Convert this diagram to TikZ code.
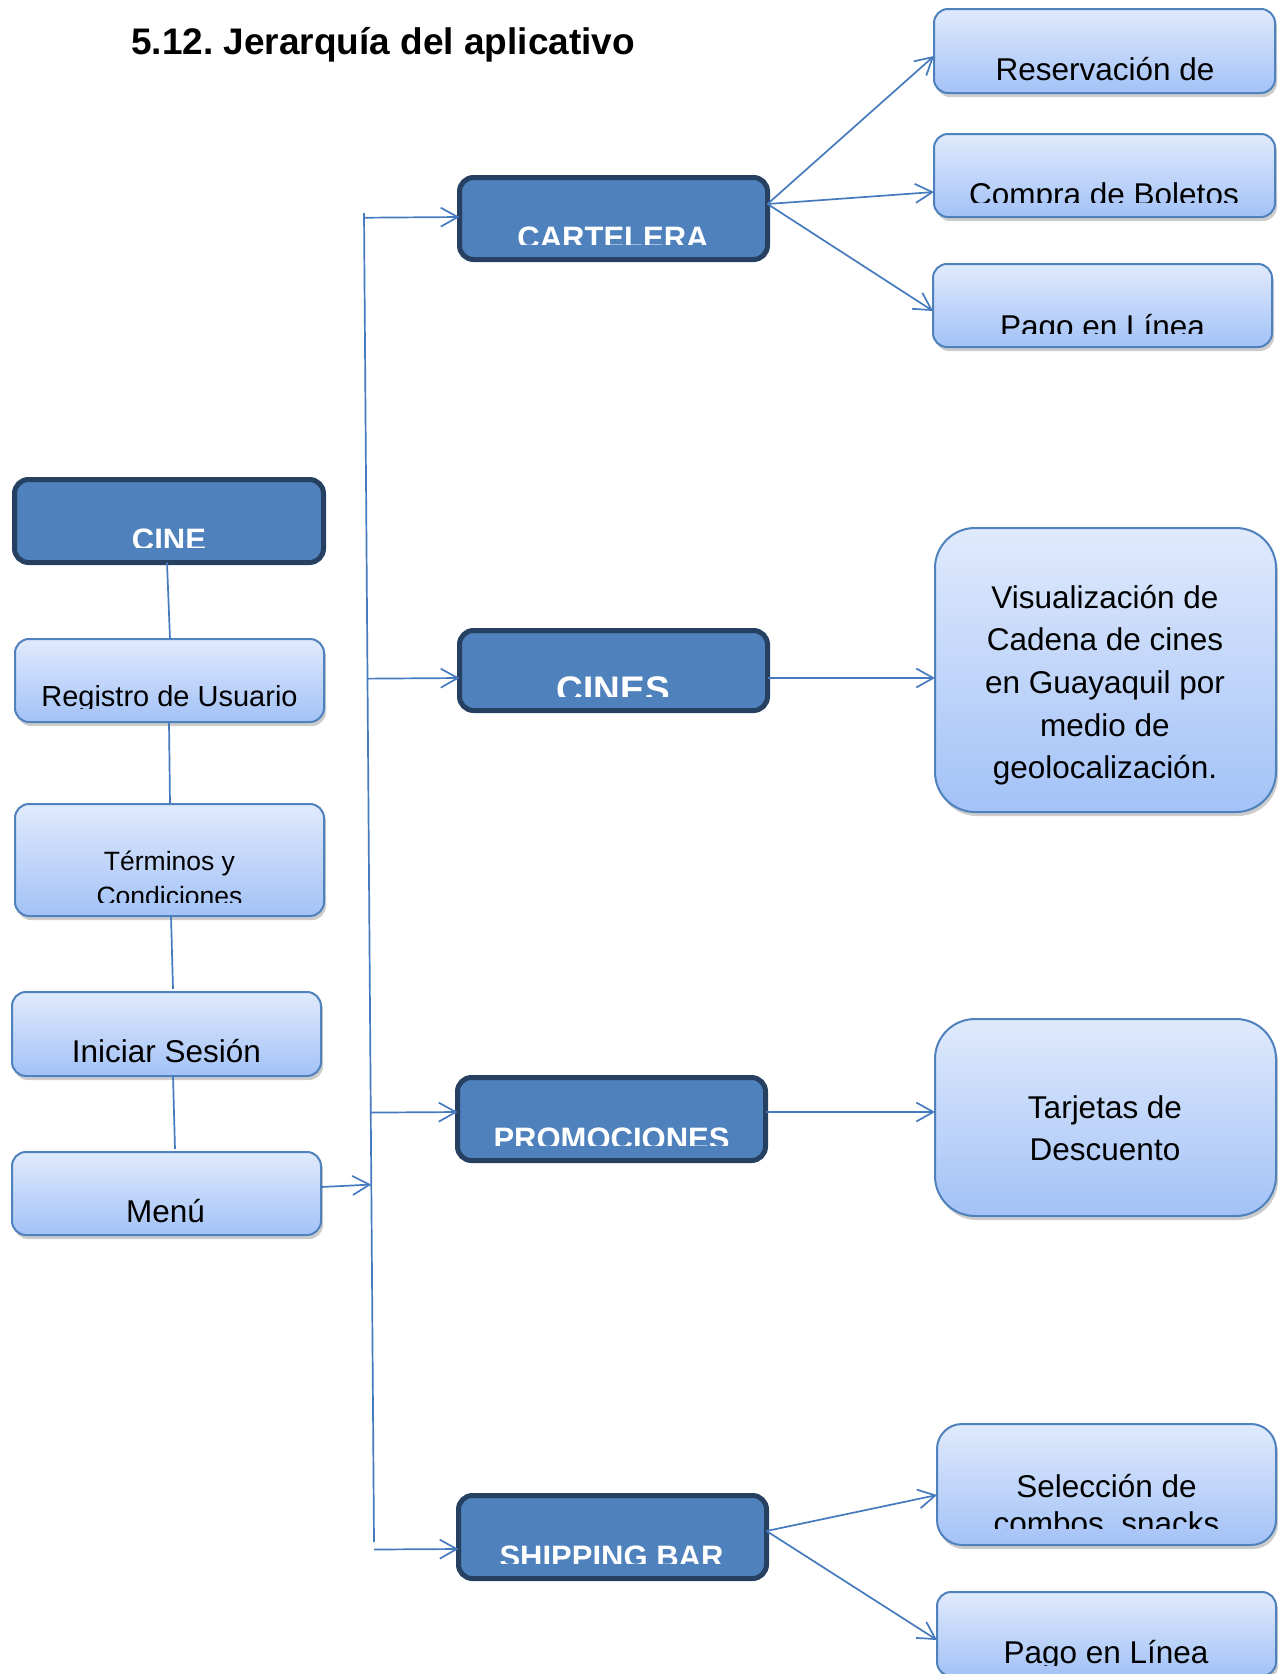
\documentclass[tikz,border=0pt]{standalone}
\usepackage{fontspec}
\setmainfont{Liberation Sans}
\frenchspacing
\usetikzlibrary{arrows.meta,shadows,calc}
\definecolor{dfill}{RGB}{79,129,189}
\definecolor{dline}{RGB}{38,64,98}
\definecolor{lline}{RGB}{79,129,189}
\definecolor{ltop}{RGB}{224,234,252}
\definecolor{lbot}{RGB}{163,194,247}
\definecolor{conncol}{RGB}{70,122,190}
\newcommand\bx[6]{\node[#1, minimum width={#5-#3}, minimum height={#6-#4}, inner sep=0pt, outer sep=0pt] (#2) at ({(#3+#5)/2},{(#4+#6)/2}) {};}
\begin{document}
\begin{tikzpicture}[x=1pt,y=-1pt,
  lightbox/.style={draw=lline, line width=2pt, top color=ltop, bottom color=lbot, rounded corners=14pt,
    drop shadow={shadow xshift=2pt, shadow yshift=-4pt, fill=black, opacity=0.2}},
  darkbox/.style={draw=dline, line width=5pt, fill=dfill, rounded corners=14pt},
  conn/.style={draw=conncol, line width=1.7pt},
  arr/.style={conn, -{Straight Barb[length=17pt,width=19pt,line width=1.7pt]}},
  lt/.style={font=\fontsize{31.5}{38}\selectfont, inner sep=0pt, anchor=base},
  dt/.style={font=\bfseries\fontsize{31}{38}\selectfont, text=white, inner sep=0pt, anchor=base}]
\useasboundingbox (0,0) rectangle (1279,1674);
\fill[white] (0,0) rectangle (1279,1674);

% title
\node[font=\bfseries\fontsize{37}{44}\selectfont, inner sep=0pt, anchor=base west] (title) at (131,54) {5.12. Jerarquía del aplicativo};

% dark boxes
\bx{darkbox}{cine}{14.5}{479.5}{323.5}{562.5}
\bx{darkbox}{cart}{459.5}{177.5}{767.5}{259.5}
\bx{darkbox}{cines}{459.5}{630.5}{767.5}{710.5}
\bx{darkbox}{promo}{457.5}{1077.5}{765.5}{1160.5}
\bx{darkbox}{ship}{458.5}{1495.5}{766.5}{1578.5}

% light boxes
\bx{lightbox}{reg}{15}{639}{324}{722}
\bx{lightbox}{term}{15}{804}{324}{916}
\bx{lightbox}{ini}{12}{992}{321}{1076}
\bx{lightbox}{menu}{12}{1152}{321}{1235}
\bx{lightbox}{res}{934}{9}{1275}{93}
\bx{lightbox}{comp}{934}{134}{1275}{217}
\bx{lightbox}{pagoa}{933}{264}{1272}{347}
\bx{lightbox, rounded corners=40pt}{vis}{935}{528}{1276}{812}
\bx{lightbox, rounded corners=40pt}{tarj}{935}{1019}{1276}{1216}
\bx{lightbox, rounded corners=25pt}{sel}{937}{1424}{1276}{1545}
\bx{lightbox}{pagob}{937}{1592}{1276}{1676}

% texts (clipped like the original)
\begin{scope}\clip (15,480) rectangle (323,547);
\node[dt] (cineT) at (169,550) {CINE};\end{scope}
\begin{scope}\clip (460,178) rectangle (767,244);
\node[dt] (cartT) at (613,248) {CARTELERA};\end{scope}
\begin{scope}\clip (460,631) rectangle (767,696);
\node[dt, font=\bfseries\fontsize{37}{44}\selectfont] (cinesT) at (613.5,702) {CINES};\end{scope}
\begin{scope}\clip (458,1078) rectangle (765,1145);
\node[dt] (promoT) at (611.5,1149) {PROMOCIONES};\end{scope}
\begin{scope}\clip (459,1496) rectangle (766,1563);
\node[dt] (shipT) at (611.5,1567) {SHIPPING BAR};\end{scope}

\begin{scope}\clip (15,639) rectangle (324,708);
\node[lt, font=\fontsize{29}{35}\selectfont] (regT) at (169.5,706) {Registro de Usuario};\end{scope}
\begin{scope}\clip (15,804) rectangle (324,902);
\node[lt, font=\fontsize{26.5}{32}\selectfont] (termT) at (169.5,870) {Términos y};
\node[lt, font=\fontsize{26.5}{32}\selectfont] (termT2) at (169.5,905) {Condiciones};\end{scope}
\node[lt] (iniT) at (166.5,1062) {Iniciar Sesión};
\node[lt] (menuT) at (165.5,1222) {Menú};

\begin{scope}\clip (934,9) rectangle (1275,82);
\node[lt] (resT) at (1105,80) {Reservación de};\end{scope}
\begin{scope}\clip (934,134) rectangle (1275,202);
\node[lt] (compT) at (1104,205) {Compra de Boletos};\end{scope}
\begin{scope}\clip (933,264) rectangle (1272,333);
\node[lt] (pagoaT) at (1102.5,337) {Pago en Línea};\end{scope}

\node[lt] (vis1) at (1105,608) {Visualización de};
\node[lt] (vis2) at (1105,650) {Cadena de cines};
\node[lt] (vis3) at (1105,693) {en Guayaquil por};
\node[lt] (vis4) at (1105,736) {medio de};
\node[lt] (vis5) at (1105,778) {geolocalización.};

\node[lt] (tarj1) at (1105,1118) {Tarjetas de};
\node[lt] (tarj2) at (1105,1160) {Descuento};

\begin{scope}\clip (937,1424) rectangle (1276,1528);
\node[lt] (sel1) at (1106.5,1497) {Selección de};
\node[lt] (sel2) at (1106.5,1534) {combos, snacks};\end{scope}
\begin{scope}\clip (937,1592) rectangle (1276,1665);
\node[lt] (pagobT) at (1106,1663) {Pago en Línea};\end{scope}

% left chain
\draw[conn] ([xshift=-2pt]cine.south) -- ([xshift=0.5pt]reg.north);
\draw[conn] ([xshift=-0.5pt]reg.south) -- ([xshift=0.5pt]term.north);
\draw[conn] ([xshift=1.5pt]term.south) -- ([xshift=6.5pt,yshift=3pt]ini.north);
\draw[conn] ([xshift=6.5pt]ini.south) -- ([xshift=8.5pt,yshift=3pt]menu.north);

% trunk
\coordinate (vtop) at (364,213);
\coordinate (vbot) at (374,1542);
\draw[conn] (vtop) -- (vbot);
\draw[arr] ([yshift=6.5pt]menu.east) -- ($(vtop)!([yshift=8.5pt]menu.east)!(vbot)$);

\draw[arr] ($(vtop)!([yshift=1.5pt]cart.west)!(vbot)$) -- ([yshift=1.5pt]cart.west);
\draw[arr] ($(vtop)!([yshift=-7.5pt]cines.west)!(vbot)$) -- ([yshift=-7.5pt]cines.west);
\draw[arr] ($(vtop)!([yshift=7pt]promo.west)!(vbot)$) -- ([yshift=7pt]promo.west);
\draw[arr] ($(vtop)!([yshift=-12pt]ship.west)!(vbot)$) -- ([yshift=-12pt]ship.west);

% right side
\draw[arr] ([yshift=14.5pt]cart.east) -- ([yshift=-5pt]res.west);
\draw[arr] ([yshift=14.5pt]cart.east) -- ([yshift=-16.5pt]comp.west);
\draw[arr] ([yshift=14.5pt]cart.east) -- ([yshift=-5.5pt]pagoa.west);
\draw[arr] ([yshift=-7.5pt]cines.east) -- ([yshift=-8pt]vis.west);
\draw[arr] ([yshift=7pt]promo.east) -- ([yshift=5.5pt]tarj.west);
\draw[arr] ([yshift=6pt]ship.east) -- ([yshift=-10.5pt]sel.west);
\draw[arr] ([yshift=6pt]ship.east) -- ([yshift=-6pt]pagob.west);
\end{tikzpicture}
\end{document}
